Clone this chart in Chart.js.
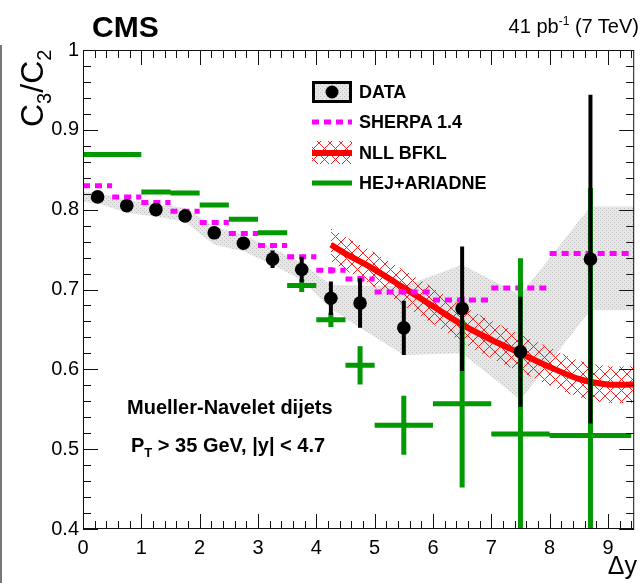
<!DOCTYPE html>
<html>
<head>
<meta charset="utf-8">
<script src="https://cdn.jsdelivr.net/npm/chart.js"></script>
<style>
  body { margin: 0; background: #fff; }
  #wrap { position: relative; width: 641px; height: 583px; overflow: hidden;
          font-family: "Liberation Sans", Arial, sans-serif; }
  canvas { position: absolute; left: 0; top: 0; }
  .t { position: absolute; white-space: nowrap; color: #000; }
  .b { font-weight: bold; }
</style>
</head>
<body>
<div id="wrap">
  <canvas id="grafico" width="641" height="583"></canvas>
  <div style="position:absolute;left:0;top:45px;width:2px;height:538px;background:#777"></div>
  <div class="t b" style="left:92px;top:12px;font-size:30px;line-height:30px">CMS</div>
  <div class="t" style="right:2px;top:16px;font-size:20px;line-height:20px">41 pb<span style="font-size:12px;position:relative;top:-8px">-1</span> (7 TeV)</div>
  <div class="t" style="left:16px;top:127px;font-size:32px;line-height:32px;transform-origin:0 0;transform:rotate(-90deg)">C<span style="font-size:20px;position:relative;top:8px">3</span>/C<span style="font-size:20px;position:relative;top:8px">2</span></div>
  <div class="t" style="right:4px;top:553px;font-size:25px;line-height:25px">&Delta;y</div>
  <div class="t b" style="left:359px;top:83px;font-size:18px;line-height:18px">DATA</div>
  <div class="t b" style="left:359px;top:113px;font-size:18px;line-height:18px">SHERPA 1.4</div>
  <div class="t b" style="left:359px;top:144px;font-size:18px;line-height:18px">NLL BFKL</div>
  <div class="t b" style="left:359px;top:174px;font-size:18px;line-height:18px">HEJ+ARIADNE</div>
  <div class="t b" style="left:127px;top:397px;font-size:20px;line-height:20px">Mueller-Navelet dijets</div>
  <div class="t b" style="left:131px;top:435px;font-size:20px;line-height:20px">P<span style="font-size:13px;position:relative;top:5px">T</span> &gt; 35 GeV, |y| &lt; 4.7</div>
</div>
<script>
// --- Data ---
const dataX = [0.25, 0.75, 1.25, 1.75, 2.25, 2.75, 3.25, 3.75, 4.25, 4.75, 5.5, 6.5, 7.5, 8.7];
const dataY = [0.816, 0.805, 0.800, 0.792, 0.771, 0.758, 0.738, 0.725, 0.689, 0.683, 0.652, 0.676, 0.622, 0.738];
const dataErr = [0.003, 0.003, 0.003, 0.003, 0.003, 0.003, 0.011, 0.016, 0.021, 0.031, 0.034, 0.078, 0.069, 0.206];

// systematic band of the data
const bandX = [0, 0.25, 0.75, 1.25, 1.75, 2.25, 2.75, 3.25, 3.75, 4.25, 4.75, 5.5, 6.5, 7.5, 8.7, 9.45];
const bandUp = [0.822, 0.821, 0.812, 0.807, 0.802, 0.779, 0.768, 0.752, 0.733, 0.706, 0.705, 0.704, 0.731, 0.693, 0.804, 0.804];
const bandLo = [0.810, 0.808, 0.796, 0.791, 0.785, 0.756, 0.748, 0.731, 0.712, 0.676, 0.652, 0.618, 0.620, 0.562, 0.674, 0.674];

const sherpaLo = [0, 0.5, 1, 1.5, 2, 2.5, 3, 3.5, 4, 4.5, 5, 6, 7, 8];
const sherpaHi = [0.5, 1, 1.5, 2, 2.5, 3, 3.5, 4, 4.5, 5, 6, 7, 8, 9.4];
const sherpaY = [0.830, 0.816, 0.809, 0.798, 0.784, 0.770, 0.755, 0.741, 0.724, 0.713, 0.697, 0.687, 0.702, 0.745];
const sherpaErr = [0, 0, 0, 0, 0, 0, 0, 0, 0.004, 0.004, 0.003, 0.004, 0.007, 0.027];

const hejLo = [0, 1, 1.5, 2, 2.5, 3, 3.5, 4, 4.5, 5, 6, 7, 8];
const hejHi = [1, 1.5, 2, 2.5, 3, 3.5, 4, 4.5, 5, 6, 7, 8, 9.4];
const hejY = [0.869, 0.822, 0.821, 0.806, 0.788, 0.771, 0.705, 0.662, 0.605, 0.530, 0.557, 0.519, 0.517];
const hejErr = [0, 0, 0, 0, 0, 0, 0.008, 0.009, 0.024, 0.037, 0.105, 0.22, 0.31];

const bfklX = [4.25, 4.5, 5, 5.5, 6, 6.5, 7, 7.5, 8, 8.5, 9, 9.45];
const bfklY = [0.756, 0.745, 0.725, 0.702, 0.679, 0.656, 0.637, 0.620, 0.603, 0.588, 0.581, 0.581];
const bfklUp = [0.777, 0.766, 0.746, 0.724, 0.702, 0.680, 0.661, 0.644, 0.627, 0.611, 0.604, 0.604];
const bfklLo = [0.735, 0.724, 0.703, 0.680, 0.657, 0.634, 0.614, 0.597, 0.580, 0.565, 0.558, 0.558];

const xTicks = [0, 1, 2, 3, 4, 5, 6, 7, 8, 9];
const xTickLabels = ["0", "1", "2", "3", "4", "5", "6", "7", "8", "9"];
const yTicks = [0.4, 0.5, 0.6, 0.7, 0.8, 0.9, 1.0];
const yTickLabels = ["0.4", "0.5", "0.6", "0.7", "0.8", "0.9", "1"];

// --- helpers ---
function xy(xs, ys) {
  return xs.map((x, i) => ({ x: x, y: ys[i] }));
}

// horizontal bin segments, separated by gaps
function segments(lo, hi, ys) {
  const pts = [];
  for (let i = 0; i < ys.length; i++) {
    pts.push({ x: lo[i], y: ys[i] }, { x: hi[i], y: ys[i] }, { x: hi[i], y: null });
  }
  return pts;
}

// vertical error bars
function errorBars(xs, ys, es) {
  const pts = [];
  for (let i = 0; i < ys.length; i++) {
    if (!es[i]) continue;
    pts.push({ x: xs[i], y: ys[i] - es[i] }, { x: xs[i], y: ys[i] + es[i] }, { x: xs[i], y: null });
  }
  return pts;
}

function hatchPattern() {
  const c = document.createElement("canvas");
  c.width = 11; c.height = 11;
  const g = c.getContext("2d");
  g.strokeStyle = "#ff2020";
  g.lineWidth = 1;
  g.beginPath();
  g.moveTo(-1, -1); g.lineTo(12, 12);
  g.moveTo(12, -1); g.lineTo(-1, 12);
  g.stroke();
  return g.createPattern(c, "repeat");
}

function greyPattern() {
  const c = document.createElement("canvas");
  c.width = 4; c.height = 4;
  const g = c.getContext("2d");
  g.fillStyle = "#e6e6e6";
  g.fillRect(0, 0, 4, 4);
  g.fillStyle = "#c2c2c2";
  g.fillRect(0, 0, 1, 1);
  g.fillRect(2, 2, 1, 1);
  return g.createPattern(c, "repeat");
}

const hatch = hatchPattern();
const grey = greyPattern();
const hejCenters = hejLo.map((lo, i) => (lo + hejHi[i]) / 2);
const sherpaCenters = sherpaLo.map((lo, i) => (lo + sherpaHi[i]) / 2);

// --- frame, inner ticks and legend symbols (ROOT style) ---
const rootFrame = {
  id: "rootFrame",
  afterDraw(chart) {
    const { ctx, chartArea: a, scales } = chart;
    const x = scales.x, y = scales.y;
    ctx.save();
    ctx.strokeStyle = "#111";
    ctx.lineWidth = 1;
    ctx.strokeRect(a.left + 0.5, a.top + 0.5, a.right - a.left - 1, a.bottom - a.top - 1);
    ctx.beginPath();
    for (let i = 0; i * 0.2 <= x.max; i++) {
      const px = Math.round(x.getPixelForValue(i * 0.2)) + 0.5;
      const len = i % 5 === 0 ? 15 : 8;
      ctx.moveTo(px, a.bottom); ctx.lineTo(px, a.bottom - len);
      ctx.moveTo(px, a.top); ctx.lineTo(px, a.top + len);
    }
    for (let i = 0; i <= 30; i++) {
      const py = Math.round(y.getPixelForValue(0.4 + i * 0.02)) + 0.5;
      const len = i % 5 === 0 ? 15 : 8;
      ctx.moveTo(a.left, py); ctx.lineTo(a.left + len, py);
      ctx.moveTo(a.right, py); ctx.lineTo(a.right - len, py);
    }
    ctx.stroke();

    // legend
    ctx.fillStyle = grey;
    ctx.fillRect(312, 81, 40, 22);
    ctx.lineWidth = 3;
    ctx.strokeStyle = "#000";
    ctx.strokeRect(313.5, 82.5, 37, 19);
    ctx.fillStyle = "#000";
    ctx.beginPath(); ctx.arc(332, 92, 6.5, 0, Math.PI * 2); ctx.fill();

    ctx.strokeStyle = "#ff00ff";
    ctx.lineWidth = 5;
    ctx.setLineDash([7, 5]);
    ctx.beginPath(); ctx.moveTo(312, 122); ctx.lineTo(352, 122); ctx.stroke();
    ctx.setLineDash([]);

    ctx.fillStyle = hatch;
    ctx.fillRect(312, 141, 40, 23);
    ctx.strokeStyle = "#ff0000";
    ctx.lineWidth = 6;
    ctx.beginPath(); ctx.moveTo(312, 153); ctx.lineTo(352, 153); ctx.stroke();

    ctx.strokeStyle = "#009900";
    ctx.lineWidth = 5;
    ctx.beginPath(); ctx.moveTo(312, 183); ctx.lineTo(352, 183); ctx.stroke();
    ctx.restore();
  },
};

const line = { showLine: true, pointRadius: 0, fill: false, spanGaps: false, tension: 0 };

new Chart(document.getElementById("grafico").getContext("2d"), {
  type: "line",
  data: {
    datasets: [
      // data points (on top)
      { ...line, order: 0, data: xy(dataX, dataY), showLine: false,
        pointRadius: 6.8, pointBackgroundColor: "#000", pointBorderWidth: 0 },
      { ...line, order: 1, data: errorBars(dataX, dataY, dataErr), borderColor: "#000", borderWidth: 4 },
      // HEJ+ARIADNE
      { ...line, order: 2, data: segments(hejLo, hejHi, hejY), borderColor: "#009900", borderWidth: 5 },
      { ...line, order: 2, data: errorBars(hejCenters, hejY, hejErr), borderColor: "#009900", borderWidth: 5 },
      // SHERPA
      { ...line, order: 3, data: segments(sherpaLo, sherpaHi, sherpaY), borderColor: "#ff00ff",
        borderWidth: 5, borderDash: [7, 5] },
      { ...line, order: 3, data: errorBars(sherpaCenters, sherpaY, sherpaErr), borderColor: "#ff00ff", borderWidth: 5 },
      // NLL BFKL
      { ...line, order: 4, data: xy(bfklX, bfklY), borderColor: "#ff0000", borderWidth: 6, tension: 0.3 },
      { ...line, order: 5, data: xy(bfklX, bfklUp), borderWidth: 0, fill: "+1", backgroundColor: hatch, tension: 0.3 },
      { ...line, order: 5, data: xy(bfklX, bfklLo), borderWidth: 0, tension: 0.3 },
      // systematic band
      { ...line, order: 6, data: xy(bandX, bandUp), borderWidth: 0, fill: "+1", backgroundColor: grey },
      { ...line, order: 6, data: xy(bandX, bandLo), borderWidth: 0 },
    ],
  },
  options: {
    responsive: false,
    animation: false,
    devicePixelRatio: 1,
    layout: { padding: { top: 50, right: 1, bottom: 0, left: 0 } },
    plugins: { legend: { display: false }, tooltip: { enabled: false } },
    scales: {
      x: {
        type: "linear", min: 0, max: 9.45,
        grid: { display: false, drawTicks: false },
        border: { display: false },
        afterBuildTicks: (s) => { s.ticks = xTicks.map((v) => ({ value: v })); },
        afterFit: (s) => { s.height = 54; },
        ticks: {
          padding: 7, color: "#000", maxRotation: 0, autoSkip: false,
          font: { family: "Liberation Sans", size: 20 },
          callback: (v, i) => xTickLabels[i],
        },
      },
      y: {
        type: "linear", min: 0.4, max: 1.0,
        grid: { display: false, drawTicks: false },
        border: { display: false },
        afterBuildTicks: (s) => { s.ticks = yTicks.map((v) => ({ value: v })); },
        afterFit: (s) => { s.width = 83; },
        ticks: {
          padding: 4, color: "#000", autoSkip: false,
          font: { family: "Liberation Sans", size: 20 },
          callback: (v, i) => yTickLabels[i],
        },
      },
    },
  },
  plugins: [rootFrame],
});
</script>
</body>
</html>
